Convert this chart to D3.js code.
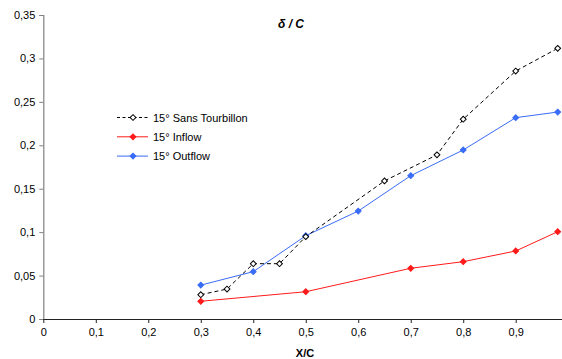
<!DOCTYPE html>
<html><head><meta charset="utf-8">
<script src="https://cdn.jsdelivr.net/npm/d3@7"></script>
<style>
body{margin:0;background:#fff;}
svg{display:block;font-family:"Liberation Sans",Arial,sans-serif;}
</style></head>
<body><svg id="c" width="562" height="359"></svg>
<script>
const seriesNames = ["15° Sans Tourbillon", "15° Inflow", "15° Outflow"];
const sansX = [0.3, 0.35, 0.4, 0.45, 0.5, 0.65, 0.75, 0.8, 0.9, 0.98];
const sansY = [0.028, 0.0345, 0.0637, 0.0637, 0.0948, 0.159, 0.189, 0.230, 0.2855, 0.3116];
const inflowX = [0.3, 0.5, 0.7, 0.8, 0.9, 0.98];
const inflowY = [0.0204, 0.0314, 0.0584, 0.066, 0.0783, 0.1005];
const outflowX = [0.3, 0.4, 0.5, 0.6, 0.7, 0.8, 0.9, 0.98];
const outflowY = [0.039, 0.0545, 0.0959, 0.1243, 0.165, 0.1946, 0.2318, 0.2383];
const xTicks = [0, 0.1, 0.2, 0.3, 0.4, 0.5, 0.6, 0.7, 0.8, 0.9];
const yTicks = [0, 0.05, 0.1, 0.15, 0.2, 0.25, 0.3, 0.35];

const svg = d3.select("#c");
const x = d3.scaleLinear().domain([0, 1]).range([43.3, 568.2]);
const y = d3.scaleLinear().domain([0, 0.35]).range([319, 15]);
const fmt = d => String(d).replace(".", ",");

// Y axis
const ya = svg.append("g").attr("transform", `translate(${x(0)},0)`)
  .call(d3.axisLeft(y).tickValues(yTicks).tickFormat(fmt).tickSize(4).tickPadding(4));
ya.select(".domain").attr("stroke", "#808080").attr("stroke-width", 1.2);
ya.selectAll(".tick line").attr("stroke", "#808080");
ya.selectAll("text").attr("font-size", 11).attr("fill", "#000").attr("font-family", "Liberation Sans, Arial, sans-serif");

// X axis
const xa = svg.append("g").attr("transform", `translate(0,${y(0)})`)
  .call(d3.axisBottom(x).tickValues(xTicks).tickFormat(fmt).tickSize(4).tickSizeOuter(0).tickPadding(5));
xa.select(".domain").attr("stroke", "#222").attr("stroke-width", 1);
xa.selectAll(".tick line").attr("stroke", "#222");
xa.selectAll("text").attr("font-size", 11).attr("fill", "#000").attr("font-family", "Liberation Sans, Arial, sans-serif");

const diamond = d3.symbol().type(d3.symbolSquare).size(17);

function drawSeries(xs, ys, color, dashed, open) {
  const pts = xs.map((v, i) => [v, ys[i]]);
  svg.append("path").datum(pts)
    .attr("fill", "none").attr("stroke", color).attr("stroke-width", 1)
    .attr("stroke-dasharray", dashed ? "4,3" : null)
    .attr("d", d3.line().x(d => x(d[0])).y(d => y(d[1])));
  svg.append("g").selectAll("path").data(pts).join("path")
    .attr("transform", d => `translate(${x(d[0])},${y(d[1])}) rotate(45)`)
    .attr("d", diamond)
    .attr("fill", open ? "#fff" : color)
    .attr("stroke", color).attr("stroke-width", 1);
}
drawSeries(inflowX, inflowY, "#ff1a1a", false, false);
drawSeries(outflowX, outflowY, "#3a6cf6", false, false);
drawSeries(sansX, sansY, "#000", true, true);

// Title
svg.append("text").attr("x", 291).attr("y", 27.5).attr("text-anchor", "middle")
  .attr("font-size", 12).attr("font-weight", "bold").attr("font-style", "italic")
  .text("δ / C");

// X label
svg.append("text").attr("x", 305).attr("y", 357).attr("text-anchor", "middle")
  .attr("font-size", 11).attr("font-weight", "bold").text("X/C");

// Legend
const legend = [
  {name: seriesNames[0], color: "#000", dashed: true, open: true},
  {name: seriesNames[1], color: "#ff1a1a", dashed: false, open: false},
  {name: seriesNames[2], color: "#3a6cf6", dashed: false, open: false}
];
const lg = svg.append("g");
legend.forEach((d, i) => {
  const yy = 117.5 + i * 19.3;
  lg.append("line").attr("x1", 117).attr("x2", 148).attr("y1", yy).attr("y2", yy)
    .attr("stroke", d.color).attr("stroke-width", 1)
    .attr("stroke-dasharray", d.dashed ? "3,2.5" : null);
  lg.append("path").attr("transform", `translate(133,${yy}) rotate(45)`).attr("d", diamond)
    .attr("fill", d.open ? "#fff" : d.color).attr("stroke", d.color);
  lg.append("text").attr("x", 153).attr("y", yy + 4).attr("font-size", 11).text(d.name);
});
</script></body></html>
